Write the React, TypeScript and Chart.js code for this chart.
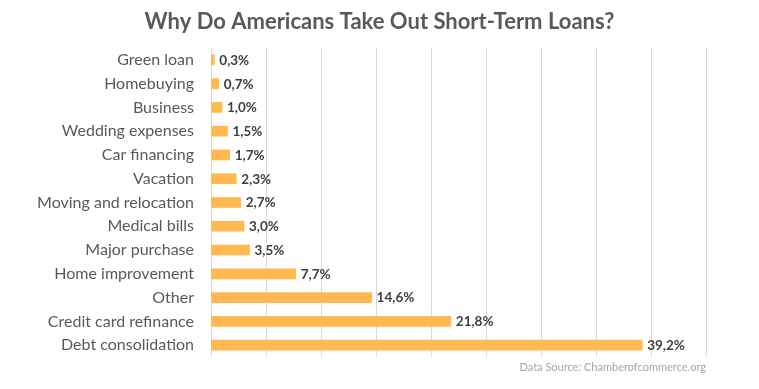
import React, { useEffect, useRef } from "react";
import { Chart, registerables } from "chart.js";

Chart.register(...registerables);

const categories = [
  "Green loan",
  "Homebuying",
  "Business",
  "Wedding expenses",
  "Car financing",
  "Vacation",
  "Moving and relocation",
  "Medical bills",
  "Major purchase",
  "Home improvement",
  "Other",
  "Credit card refinance",
  "Debt consolidation",
];

const shares = [0.3, 0.7, 1.0, 1.5, 1.7, 2.3, 2.7, 3.0, 3.5, 7.7, 14.6, 21.8, 39.2];

const shareLabels = [
  "0,3%", "0,7%", "1,0%", "1,5%", "1,7%", "2,3%", "2,7%", "3,0%", "3,5%", "7,7%", "14,6%", "21,8%", "39,2%",
];

const titleText = "Why Do Americans Take Out Short-Term Loans?";
const sourceText = "Data Source: Chamberofcommerce.org";

const valueLabelPlugin = {
  id: "valueLabels",
  afterDatasetsDraw(chart: any) {
    const ctx = chart.ctx;
    const meta = chart.getDatasetMeta(0);
    ctx.save();
    ctx.font = "bold 13.5px Lato";
    ctx.fillStyle = "#404040";
    ctx.textAlign = "left";
    ctx.textBaseline = "middle";
    meta.data.forEach((el: any, i: number) => {
      ctx.fillText(shareLabels[i], el.x + 5, el.y + 0.5);
    });
    ctx.restore();
  },
};

const centeredTitlePlugin = {
  id: "centeredTitle",
  afterDraw(chart: any) {
    const ctx = chart.ctx;
    ctx.save();
    ctx.font = "bold 22px Lato";
    ctx.fillStyle = "#595959";
    ctx.textAlign = "center";
    ctx.textBaseline = "middle";
    ctx.fillText(titleText, chart.width / 2, 22);
    ctx.restore();
  },
};

export default function App() {
  const canvasRef = useRef<HTMLCanvasElement | null>(null);

  useEffect(() => {
    if (!canvasRef.current) return;
    const chart = new Chart(canvasRef.current, {
      type: "bar",
      data: {
        labels: categories,
        datasets: [
          {
            data: shares,
            backgroundColor: "#FFB950",
            barThickness: 10,
          },
        ],
      },
      options: {
        indexAxis: "y",
        animation: false,
        responsive: true,
        maintainAspectRatio: false,
        layout: { padding: { left: 0, right: 53, top: 48, bottom: 0 } },
        plugins: {
          legend: { display: false },
          tooltip: { enabled: false },
          title: { display: false },
          subtitle: {
            display: true,
            position: "bottom",
            align: "end",
            text: sourceText,
            color: "#A6A6A6",
            font: { family: "Lato", size: 11, lineHeight: 1.2 },
            padding: { top: 3.4, bottom: 15.4 },
          },
        },
        scales: {
          x: {
            min: 0,
            max: 45,
            ticks: { display: false, stepSize: 5 },
            border: { display: false },
            grid: { color: "#D9D9D9", lineWidth: 1, drawTicks: false },
          },
          y: {
            grid: { display: false, drawTicks: false },
            border: { display: false },
            ticks: {
              color: "#595959",
              font: { family: "Lato", size: 16 },
              padding: 17,
            },
            afterFit: (scale: any) => {
              scale.width = 211;
            },
          },
        },
      },
      plugins: [valueLabelPlugin, centeredTitlePlugin],
    });
    return () => chart.destroy();
  }, []);

  return (
    <div style={{ position: "fixed", left: 0, top: 0, width: 759, height: 389, background: "#fff" }}>
      <canvas ref={canvasRef} />
    </div>
  );
}
